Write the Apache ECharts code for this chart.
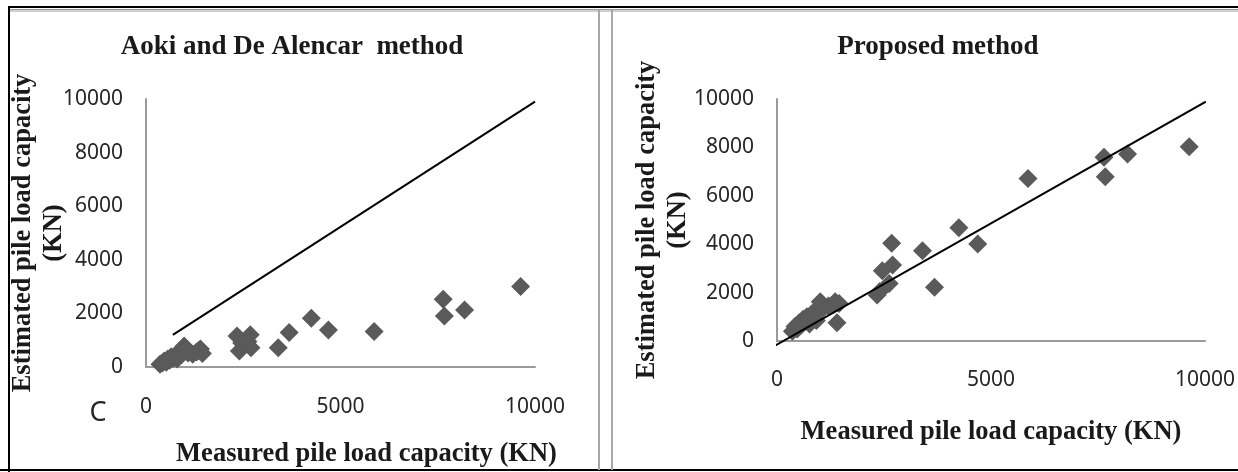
<!DOCTYPE html>
<html><head><meta charset="utf-8">
<script src="https://cdn.jsdelivr.net/npm/echarts@6/dist/echarts.min.js"></script>
<style>html,body{margin:0;padding:0;background:#fff}#c{width:1238px;height:472px}</style>
</head><body><div id="c"></div>
<script>
// Measured pile load capacity (KN) - shared by both panels
const measured = [360, 420, 470, 520, 560, 610, 650, 700, 760, 800, 860, 920, 980, 1010, 1080, 1200, 1300, 1360, 1400, 1450,
  2340, 2400, 2460, 2620, 2680, 2700, 3400, 3680, 4250, 4690, 5865, 7640, 7670, 8190, 9630];
// Aoki and De Alencar estimates (KN)
const aokiEstimated = [100, 150, 220, 180, 300, 250, 380, 330, 450, 300, 550, 480, 780, 650, 520, 480, 560, 620, 670, 500,
  1160, 600, 900, 950, 1200, 720, 720, 1290, 1820, 1380, 1320, 2530, 1900, 2130, 3000];
// Proposed method estimates (KN)
const proposedEstimated = [400, 600, 500, 750, 650, 900, 800, 1000, 700, 1100, 1200, 850, 1300, 1625, 1350, 1450, 1500, 1625, 750, 1550,
  1900, 2050, 2900, 2380, 4040, 3140, 3730, 2220, 4680, 4010, 6720, 7590, 6790, 7730, 8030];
// Reference lines
const aokiLine = [[690, 1200], [10000, 9900]];
const proposedLine = [[-110, -260], [10020, 9890]];
// Axis ticks
const xAxisMax = 10000, xAxisStep = 5000;
const yAxisMax = 10000, yAxisStep = 2000;
const titles = ['Aoki and De Alencar  method', 'Proposed method'];
const xName = 'Measured pile load capacity (KN)';
const yName = 'Estimated pile load capacity\n(KN)';

const aokiPoints = measured.map((m, i) => [m, aokiEstimated[i]]);
const proposedPoints = measured.map((m, i) => [m, proposedEstimated[i]]);

const serif = 'Liberation Serif';
const sans = 'Noto Sans';
const axisLineStyle = { show: true, lineStyle: { color: '#9a9a9a', width: 2 } };
const plain = v => String(v);

function xAx(gi, nameGap, pad, margin) {
  return {
    gridIndex: gi, type: 'value', min: 0, max: xAxisMax, interval: xAxisStep,
    axisLine: axisLineStyle, axisTick: { show: false }, splitLine: { show: false },
    axisLabel: { fontFamily: sans, fontSize: 21, color: '#262626', margin: margin, formatter: plain },
    name: xName, nameLocation: 'middle', nameGap: nameGap, nameMoveOverlap: false,
    nameTextStyle: { fontFamily: serif, fontWeight: 'bold', fontSize: 26.5, color: '#1a1a1a', lineHeight: 30, padding: pad }
  };
}
function yAx(gi, nameGap, lh) {
  return {
    gridIndex: gi, type: 'value', min: 0, max: yAxisMax, interval: yAxisStep,
    axisLine: axisLineStyle, axisTick: { show: false }, splitLine: { show: false },
    axisLabel: { fontFamily: sans, fontSize: 21, color: '#262626', margin: 23, formatter: plain },
    name: yName, nameLocation: 'middle', nameGap: nameGap, nameRotate: 90, nameMoveOverlap: false,
    nameTextStyle: { fontFamily: serif, fontWeight: 'bold', fontSize: 26.5, color: '#1a1a1a', lineHeight: lh, align: 'center' }
  };
}

const option = {
  backgroundColor: '#fff',
  animation: false,
  title: [
    { text: titles[0], left: 292, top: 32, textAlign: 'center', padding: 0,
      textStyle: { fontFamily: serif, fontWeight: 'bold', fontSize: 27, color: '#1a1a1a', lineHeight: 30 } },
    { text: titles[1], left: 938, top: 32, textAlign: 'center', padding: 0,
      textStyle: { fontFamily: serif, fontWeight: 'bold', fontSize: 27, color: '#1a1a1a', lineHeight: 30 } }
  ],
  grid: [
    { left: 146, top: 99, width: 389, height: 268, containLabel: false, outerBoundsMode: 'none' },
    { left: 777, top: 99, width: 428, height: 242, containLabel: false, outerBoundsMode: 'none' }
  ],
  xAxis: [xAx(0, 72, [0, 0, 0, 52], 29.5), xAx(1, 76, 0, 28.5)],
  yAxis: [yAx(0, 76, 31), yAx(1, 84, 30.5)],
  series: [
    { type: 'scatter', xAxisIndex: 0, yAxisIndex: 0, data: aokiPoints, symbol: 'diamond', symbolSize: [19, 19],
      itemStyle: { color: '#5a5a5a', opacity: 1 }, silent: true },
    { type: 'line', xAxisIndex: 0, yAxisIndex: 0, data: aokiLine, symbol: 'none', clip: false,
      lineStyle: { color: '#000', width: 2 }, silent: true },
    { type: 'scatter', xAxisIndex: 1, yAxisIndex: 1, data: proposedPoints, symbol: 'diamond', symbolSize: [19, 19],
      itemStyle: { color: '#5a5a5a', opacity: 1 }, silent: true },
    { type: 'line', xAxisIndex: 1, yAxisIndex: 1, data: proposedLine, symbol: 'none', clip: false,
      lineStyle: { color: '#000', width: 2 }, silent: true }
  ],
  graphic: [
    { type: 'rect', shape: { x: 8, y: 6, width: 1230, height: 2 }, style: { fill: '#000' }, silent: true },
    { type: 'rect', shape: { x: 10, y: 9, width: 1228, height: 1 }, style: { fill: '#999' }, silent: true },
    { type: 'rect', shape: { x: 10, y: 10, width: 1228, height: 2 }, style: { fill: '#cfcfcf' }, silent: true },
    { type: 'rect', shape: { x: 8, y: 6, width: 2, height: 466 }, style: { fill: '#000' }, silent: true },
    { type: 'rect', shape: { x: 0, y: 469, width: 1238, height: 2 }, style: { fill: '#000' }, silent: true },
    { type: 'rect', shape: { x: 598, y: 10, width: 2, height: 460 }, style: { fill: '#a8a8a8' }, silent: true },
    { type: 'rect', shape: { x: 611, y: 10, width: 2, height: 460 }, style: { fill: '#a8a8a8' }, silent: true },
    { type: 'text', x: 98, y: 413, style: { text: 'C', fontFamily: sans, fontSize: 27, fill: '#262626', align: 'center', verticalAlign: 'middle' }, silent: true }
  ]
};
const chart = echarts.init(document.getElementById('c'), null, { renderer: 'canvas' });
chart.setOption(option);
</script>
</body></html>
